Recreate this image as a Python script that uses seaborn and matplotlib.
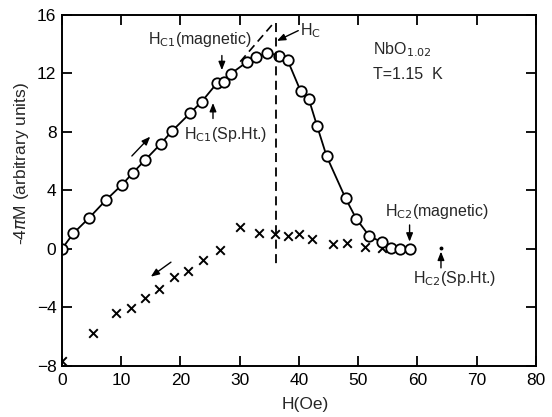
import numpy as np
import pandas as pd
import matplotlib
matplotlib.use("Agg")
import matplotlib.pyplot as plt
import seaborn as sns

# increasing field (circles)
h_up = [0, 1.9, 4.6, 7.4, 10.1, 12.0, 14.0, 16.7, 18.6, 21.7, 23.6, 26.2, 27.4, 28.5,
        31.2, 32.7, 34.7, 36.6, 38.1, 40.3, 41.7, 43.1, 44.7, 47.9, 49.7, 51.9, 54.0,
        55.6, 57.1, 58.8]
m_up = [0, 1.05, 2.12, 3.32, 4.36, 5.2, 6.05, 7.18, 8.05, 9.29, 10.05, 11.33, 11.4, 11.95,
        12.75, 13.09, 13.38, 13.2, 12.88, 10.77, 10.2, 8.36, 6.31, 3.44, 2.05, 0.87, 0.46,
        0.07, 0.0, 0.0]

# decreasing field (crosses)
h_down = [0, 5.3, 9.1, 11.6, 14.1, 16.4, 19.0, 21.2, 23.8, 26.7, 30.1, 33.2, 35.9, 38.2,
          40.0, 42.2, 45.8, 48.1, 51.1, 54.0]
m_down = [-7.67, -5.73, -4.41, -4.03, -3.34, -2.73, -1.91, -1.52, -0.77, -0.11, 1.48, 1.05,
          0.98, 0.87, 1.02, 0.7, 0.34, 0.39, 0.12, 0.07]

x_ticks = [0, 10, 20, 30, 40, 50, 60, 70, 80]
y_ticks = [-8, -4, 0, 4, 8, 12, 16]

up = pd.DataFrame({"H": h_up, "M": m_up})
down = pd.DataFrame({"H": h_down, "M": m_down})

sns.set_style("ticks")
plt.rcParams["font.family"] = ["Liberation Sans", "DejaVu Sans"]

fig = plt.figure(figsize=(5.52, 4.17), dpi=100)
ax = fig.add_axes([0.1123, 0.1223, 0.8582, 0.8429])

sns.lineplot(data=up, x="H", y="M", ax=ax, color="black", lw=1.3, marker="o",
             markersize=7.5, markerfacecolor="white", markeredgecolor="black",
             markeredgewidth=1.3, sort=False)
sns.scatterplot(data=down, x="H", y="M", ax=ax, marker="x", color="black", s=38,
                linewidth=1.4)

# dashed construction lines
ax.plot([36.1, 36.1], [15.4, -1.1], ls=(0, (5, 3)), color="black", lw=1.3)
ax.plot([30.1, 35.6], [12.78, 15.35], ls=(0, (5, 3)), color="black", lw=1.2)

ax.set_xlim(0, 80)
ax.set_ylim(-8, 16)
ax.set_xticks(x_ticks)
ax.set_yticks(y_ticks)
ax.tick_params(direction="in", length=7, width=1.3, top=True, right=True,
               labelsize=12.5, pad=4, colors="black")
ax.tick_params(axis="x", pad=5)
for s in ax.spines.values():
    s.set_linewidth(1.4)
    s.set_color("black")

ax.set_xlabel("H(Oe)", fontsize=12.5)
ax.set_ylabel("-4$\\pi$M (arbitrary units)", fontsize=12.5)
ax.xaxis.set_label_coords(0.513, -0.088)
ax.yaxis.set_label_coords(-0.066, 0.575)

fs = 11.5
arr = dict(arrowstyle="-|>,head_length=0.5,head_width=0.2", color="black", lw=1.0,
           shrinkA=0, shrinkB=0)

ax.text(14.5, 14.26, "H$_{\\rm C1}$(magnetic)", fontsize=fs, va="center", ha="left")
ax.annotate("", xy=(27.0, 12.2), xytext=(27.0, 13.2), arrowprops=arr)
ax.text(20.6, 7.8, "H$_{\\rm C1}$(Sp.Ht.)", fontsize=fs, va="center", ha="left")
ax.annotate("", xy=(25.5, 9.96), xytext=(25.5, 8.9), arrowprops=arr)
ax.text(40.2, 14.9, "H$_{\\rm C}$", fontsize=fs, va="center", ha="left")
ax.annotate("", xy=(36.3, 14.2), xytext=(39.9, 14.9), arrowprops=arr)

ax.text(52.5, 13.6, "NbO$_{1.02}$", fontsize=fs, va="center", ha="left")
ax.text(52.5, 11.9, "T=1.15  K", fontsize=fs, va="center", ha="left")

ax.annotate("", xy=(14.9, 7.66), xytext=(11.8, 6.34), arrowprops=arr)
ax.annotate("", xy=(15.0, -1.9), xytext=(18.4, -0.91), arrowprops=arr)

ax.text(54.6, 2.52, "H$_{\\rm C2}$(magnetic)", fontsize=fs, va="center", ha="left")
ax.annotate("", xy=(58.7, 0.49), xytext=(58.7, 1.63), arrowprops=arr)
ax.text(59.3, -2.05, "H$_{\\rm C2}$(Sp.Ht.)", fontsize=fs, va="center", ha="left")
ax.annotate("", xy=(64.0, -0.19), xytext=(64.0, -1.3), arrowprops=arr)
ax.plot([64.0], [0.06], marker="o", ms=1.8, color="black")

fig.savefig("out.png", dpi=100)
